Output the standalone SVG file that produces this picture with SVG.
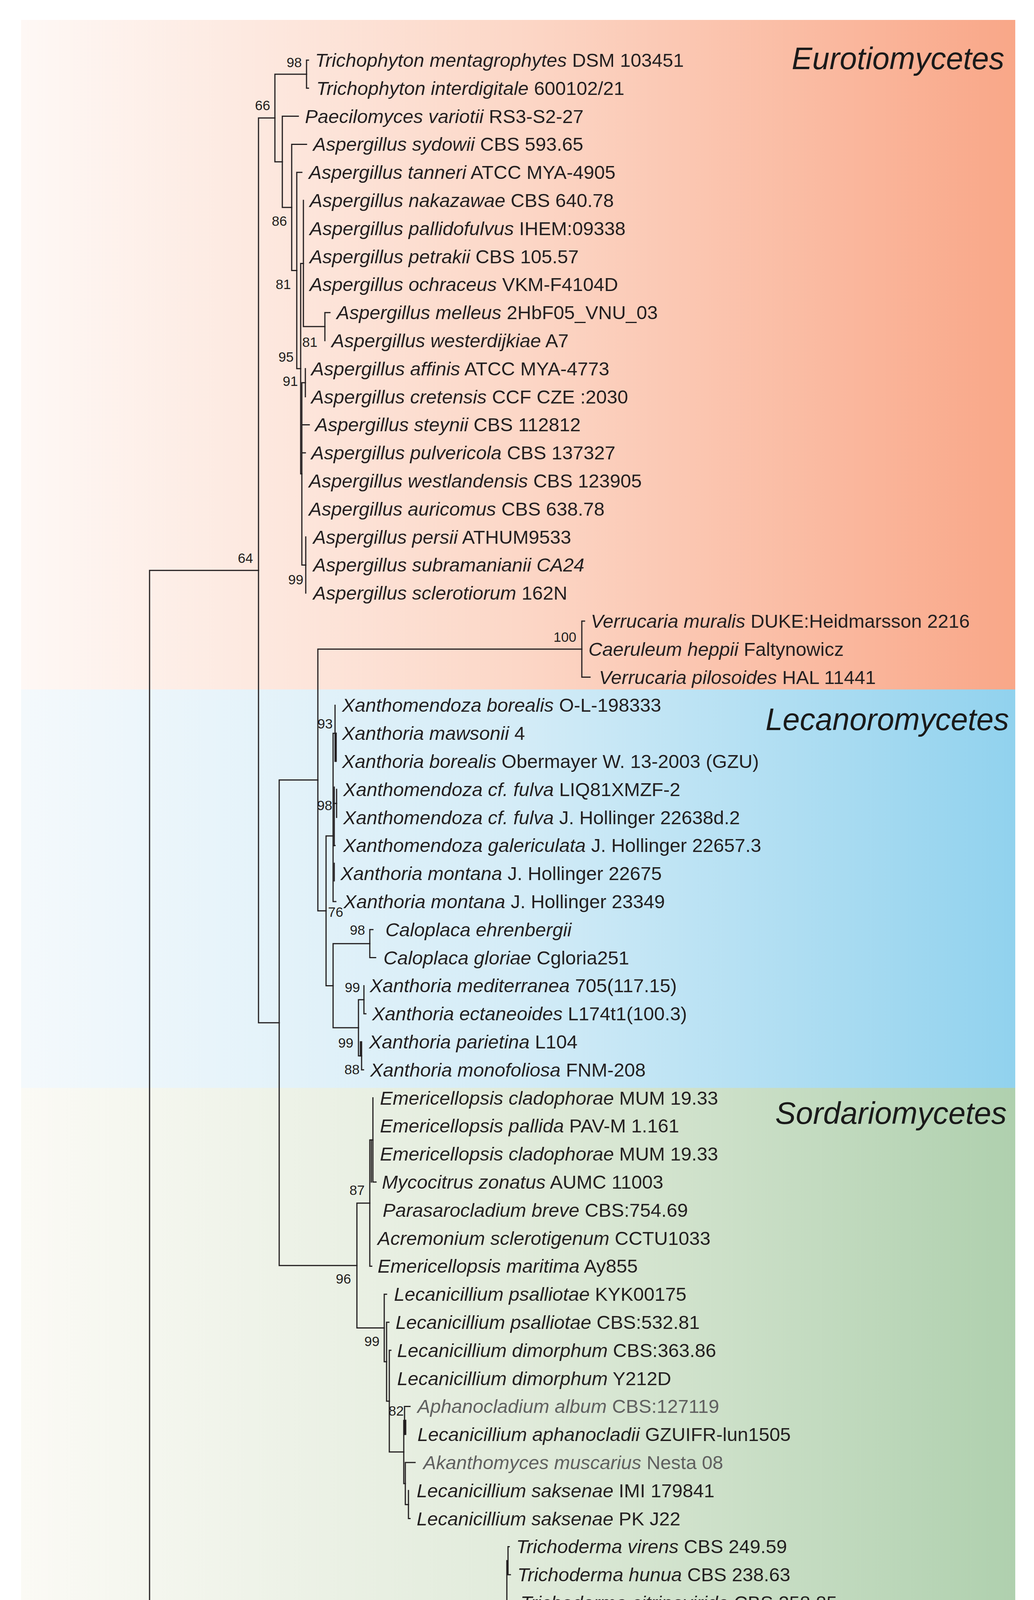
<svg xmlns="http://www.w3.org/2000/svg" width="2648" height="4873" viewBox="0 0 2648 4873">
<defs>
<linearGradient id="gEur" x1="0" y1="0" x2="1" y2="0">
<stop offset="0" stop-color="#fef8f5"/><stop offset="0.5" stop-color="#fcd7c7"/><stop offset="1" stop-color="#f9a788"/>
</linearGradient>
<linearGradient id="gLec" x1="0" y1="0" x2="1" y2="0">
<stop offset="0" stop-color="#f4f9fc"/><stop offset="0.5" stop-color="#d4ecf7"/><stop offset="1" stop-color="#91d2ee"/>
</linearGradient>
<linearGradient id="gSor" x1="0" y1="0" x2="1" y2="0">
<stop offset="0" stop-color="#fbfaf5"/><stop offset="0.5" stop-color="#e1ebdb"/><stop offset="1" stop-color="#afd0ae"/>
</linearGradient>
<style>
.br{stroke:#231f20;stroke-width:3;fill:none;stroke-linecap:square}
.tx{font-family:"Liberation Sans",Arial,sans-serif;font-size:49px;fill:#231f20;white-space:pre}
.i{font-style:italic}
.gr{fill:#606060}
.bs{font-family:"Liberation Sans",Arial,sans-serif;font-size:35px;fill:#231f20;text-anchor:end}
.cl{font-family:"Liberation Sans",Arial,sans-serif;font-size:79px;font-style:italic;fill:#1a1a1a;text-anchor:end}
</style>
</defs>
<rect width="2648" height="4873" fill="#ffffff"/>
<g id="bands">
<rect x="54" y="51" width="2546" height="1714" fill="url(#gEur)"/>
<rect x="54" y="1765" width="2546" height="1020" fill="url(#gLec)"/>
<rect x="54" y="2785" width="2546" height="1981" fill="url(#gSor)"/>
</g>
<g id="clade-labels">
<text id="lab-eur" class="cl" x="2572" y="177">Eurotiomycetes</text>
<text id="lab-lec" class="cl" x="2584" y="1869">Lecanoromycetes</text>
<text id="lab-sor" class="cl" x="2578" y="2877">Sordariomycetes</text>
</g>
<g id="connectors" class="br">
<path d="M383 1460.2V4242M383 1460.2H662M383 4242H1298"/>
<path d="M662 302.1V2618.2M662 302.1H704M662 2618.2H715"/>
<path d="M704 189.9V414.3M704 189.9H785M704 414.3H723"/>
<path d="M785 154V225.8M785 154H790M785 225.8H790"/>
<path d="M723 297.6V531M723 297.6H764M723 531H747"/>
<path d="M747 369.4V692.5M747 369.4H785M747 692.5H760"/>
<path d="M760 441.2V943.8M760 441.2H773M760 943.8H770"/>
<path d="M770 674.6V1213.1M770 674.6H777M770 1213.1H773"/>
<path d="M777 513V836.1M777 836.1H832"/>
<path d="M832 800.2V872M832 800.2H845"/>
<path d="M773 979.7V1446.4M773 979.7H782M773 1087.4H792M773 1159.2H782M773 1446.4H783"/>
<path d="M782 943.8V1015.6"/>
<path d="M783 1374.6V1518.2"/>
<path d="M715 1996.8V3239.7M715 1996.8H814M715 3239.7H914"/>
<path d="M814 1661.8V2331.7M814 1661.8H1490M814 2331.7H835"/>
<path d="M1490 1590V1733.6M1490 1590H1497M1490 1733.6H1511"/>
<path d="M835 2140V2523.4M835 2140H853M835 2523.4H853"/>
<path d="M853 1877.2V2308M853 1877.2H858M853 2056.7H862M853 2164.4H858M853 2308H860"/>
<path d="M858 1805.4V1949M861 1877V1949"/>
<path d="M862 2020.8V2092.6M856 2015V2165M856 2210V2255"/>
<path d="M853 2415.7V2631.1M853 2415.7H947M853 2631.1H918"/>
<path d="M947 2379.8V2451.6M947 2379.8H955M947 2451.6H962"/>
<path d="M918 2559.3V2702.9M918 2559.3H932M918 2702.9H926"/>
<path d="M932 2523.4V2595.2M932 2595.2H937"/>
<path d="M926 2667V2738.8M926 2738.8H931M923 2667V2702.9"/>
<path d="M914 3079.9V3399.6M914 3079.9H947M914 3399.6H984"/>
<path d="M947 2918.3V3241.4M947 2918.3H955M947 3241.4H952"/>
<path d="M955 2810.6V3026M955 3026H963M951 2918.3V3026"/>
<path d="M984 3313.2V3486M984 3313.2H990M984 3486H990"/>
<path d="M990 3385V3587M990 3385H996M990 3587H997"/>
<path d="M997 3456.8V3717.1M997 3456.8H1001M997 3717.1H1034"/>
<path d="M1034 3636.3V3797.9M1034 3636.3H1036M1034 3797.9H1038"/>
<path d="M1036 3600.4V3672.2M1036 3600.4H1050M1039 3636V3672"/>
<path d="M1038 3744V3851.7M1038 3744H1063M1038 3851.7H1046"/>
<path d="M1046 3815.8V3887.6M1046 3887.6H1050"/>
<path d="M1298 3995.3V4677.4M1298 3995.3H1301M1301 3959.4V4031.2M1301 3959.4H1304M1301 4031.2H1307M1301 4103V4246.6M1303 4103V4174.8M1303 4103H1309M1298 4318.4H1303M1298 4390.2H1318M1301 4318.4V4493"/>
</g>
<g id="scale-bar">
<path class="br" d="M308 4587H590M308 4573V4601M590 4573V4601"/>
<text class="bs" x="449" y="4660" style="text-anchor:middle">0.50</text>
</g>
<g id="bootstrap">
<text class="bs" x="773" y="172">98</text>
<text class="bs" x="692" y="282">66</text>
<text class="bs" x="735" y="578">86</text>
<text class="bs" x="745" y="740">81</text>
<text class="bs" x="813" y="888">81</text>
<text class="bs" x="752" y="926">95</text>
<text class="bs" x="763" y="988">91</text>
<text class="bs" x="777" y="1496">99</text>
<text class="bs" x="648" y="1441">64</text>
<text class="bs" x="1476" y="1643">100</text>
<text class="bs" x="852" y="1865">93</text>
<text class="bs" x="851" y="2074">98</text>
<text class="bs" x="879" y="2347">76</text>
<text class="bs" x="935" y="2393">98</text>
<text class="bs" x="922" y="2540">99</text>
<text class="bs" x="905" y="2682">99</text>
<text class="bs" x="921" y="2750">88</text>
<text class="bs" x="934" y="3059">87</text>
<text class="bs" x="899" y="3286">96</text>
<text class="bs" x="972" y="3446">99</text>
<text class="bs" x="1034" y="3624">82</text>
<text class="bs" x="1283" y="4295">100</text>
</g>
<g id="taxa" class="tx">
<g id="t01"><text x="807" y="171"><tspan class="i">Trichophyton mentagrophytes</tspan> DSM 103451</text></g>
<g id="t02"><text x="810" y="242.8"><tspan class="i">Trichophyton interdigitale</tspan>  600102/21</text></g>
<g id="t03"><text x="781" y="314.6"><tspan class="i">Paecilomyces variotii</tspan> RS3-S2-27</text></g>
<g id="t04"><text x="802" y="386.4"><tspan class="i">Aspergillus sydowii</tspan> CBS 593.65</text></g>
<g id="t05"><text x="791" y="458.2"><tspan class="i">Aspergillus tanneri</tspan> ATCC MYA-4905</text></g>
<g id="t06"><text x="793" y="530"><tspan class="i">Aspergillus nakazawae</tspan> CBS 640.78</text></g>
<g id="t07"><text x="793" y="601.8"><tspan class="i">Aspergillus pallidofulvus</tspan> IHEM:09338</text></g>
<g id="t08"><text x="793" y="673.6"><tspan class="i">Aspergillus petrakii</tspan> CBS 105.57</text></g>
<g id="t09"><text x="793" y="745.4"><tspan class="i">Aspergillus ochraceus</tspan> VKM-F4104D</text></g>
<g id="t10"><text x="862" y="817.2"><tspan class="i">Aspergillus melleus</tspan> 2HbF05_VNU_03</text></g>
<g id="t11"><text x="849" y="889"><tspan class="i">Aspergillus westerdijkiae</tspan>  A7</text></g>
<g id="t12"><text x="797" y="960.8"><tspan class="i">Aspergillus affinis</tspan> ATCC MYA-4773</text></g>
<g id="t13"><text x="797" y="1032.6"><tspan class="i">Aspergillus cretensis</tspan> CCF CZE :2030</text></g>
<g id="t14"><text x="807" y="1104.4"><tspan class="i">Aspergillus steynii</tspan> CBS 112812</text></g>
<g id="t15"><text x="797" y="1176.2"><tspan class="i">Aspergillus pulvericola</tspan> CBS 137327</text></g>
<g id="t16"><text x="791" y="1248"><tspan class="i">Aspergillus westlandensis</tspan> CBS 123905</text></g>
<g id="t17"><text x="791" y="1319.8"><tspan class="i">Aspergillus auricomus</tspan> CBS 638.78</text></g>
<g id="t18"><text x="802" y="1391.6"><tspan class="i">Aspergillus persii</tspan> ATHUM9533</text></g>
<g id="t19"><text x="802" y="1463.4"><tspan class="i">Aspergillus subramanianii CA24</tspan></text></g>
<g id="t20"><text x="802" y="1535.2"><tspan class="i">Aspergillus sclerotiorum</tspan> 162N</text></g>
<g id="t21"><text x="1513" y="1607"><tspan class="i">Verrucaria muralis</tspan> DUKE:Heidmarsson 2216</text></g>
<g id="t22"><text x="1507" y="1678.8"><tspan class="i">Caeruleum heppii</tspan> Faltynowicz</text></g>
<g id="t23"><text x="1534" y="1750.6"><tspan class="i">Verrucaria pilosoides</tspan> HAL 11441</text></g>
<g id="t24"><text x="876" y="1822.4"><tspan class="i">Xanthomendoza borealis</tspan> O-L-198333</text></g>
<g id="t25"><text x="876" y="1894.2"><tspan class="i">Xanthoria mawsonii</tspan> 4</text></g>
<g id="t26"><text x="876" y="1966"><tspan class="i">Xanthoria borealis</tspan> Obermayer W. 13-2003 (GZU)</text></g>
<g id="t27"><text x="879" y="2037.8"><tspan class="i">Xanthomendoza cf. fulva</tspan> LIQ81XMZF-2</text></g>
<g id="t28"><text x="879" y="2109.6"><tspan class="i">Xanthomendoza cf. fulva</tspan>  J. Hollinger 22638d.2</text></g>
<g id="t29"><text x="879" y="2181.4"><tspan class="i">Xanthomendoza galericulata</tspan> J. Hollinger 22657.3</text></g>
<g id="t30"><text x="872" y="2253.2"><tspan class="i">Xanthoria montana</tspan> J. Hollinger 22675</text></g>
<g id="t31"><text x="880" y="2325"><tspan class="i">Xanthoria montana</tspan> J. Hollinger 23349</text></g>
<g id="t32"><text x="987" y="2396.8"><tspan class="i">Caloplaca ehrenbergii</tspan></text></g>
<g id="t33"><text x="982" y="2468.6"><tspan class="i">Caloplaca gloriae</tspan> Cgloria251</text></g>
<g id="t34"><text x="947" y="2540.4"><tspan class="i">Xanthoria mediterranea</tspan> 705(117.15)</text></g>
<g id="t35"><text x="953" y="2612.2"><tspan class="i">Xanthoria ectaneoides</tspan> L174t1(100.3)</text></g>
<g id="t36"><text x="945" y="2684"><tspan class="i">Xanthoria parietina</tspan> L104</text></g>
<g id="t37"><text x="948" y="2755.8"><tspan class="i">Xanthoria monofoliosa</tspan> FNM-208</text></g>
<g id="t38"><text x="973" y="2827.6"><tspan class="i">Emericellopsis cladophorae</tspan> MUM 19.33</text></g>
<g id="t39"><text x="973" y="2899.4"><tspan class="i">Emericellopsis pallida</tspan> PAV-M 1.161</text></g>
<g id="t40"><text x="973" y="2971.2"><tspan class="i">Emericellopsis cladophorae</tspan> MUM 19.33</text></g>
<g id="t41"><text x="978" y="3043"><tspan class="i">Mycocitrus zonatus</tspan> AUMC 11003</text></g>
<g id="t42"><text x="980" y="3114.8"><tspan class="i">Parasarocladium breve</tspan> CBS:754.69</text></g>
<g id="t43"><text x="967" y="3186.6"><tspan class="i">Acremonium sclerotigenum</tspan> CCTU1033</text></g>
<g id="t44"><text x="967" y="3258.4"><tspan class="i">Emericellopsis maritima</tspan> Ay855</text></g>
<g id="t45"><text x="1009" y="3330.2"><tspan class="i">Lecanicillium psalliotae</tspan> KYK00175</text></g>
<g id="t46"><text x="1013" y="3402"><tspan class="i">Lecanicillium psalliotae</tspan> CBS:532.81</text></g>
<g id="t47"><text x="1017" y="3473.8"><tspan class="i">Lecanicillium dimorphum</tspan> CBS:363.86</text></g>
<g id="t48"><text x="1017" y="3545.6"><tspan class="i">Lecanicillium dimorphum</tspan> Y212D</text></g>
<g id="t49"><text class="gr" x="1069" y="3617.4"><tspan class="i">Aphanocladium album</tspan> CBS:127119</text></g>
<g id="t50"><text x="1069" y="3689.2"><tspan class="i">Lecanicillium aphanocladii</tspan> GZUIFR-lun1505</text></g>
<g id="t51"><text class="gr" x="1084" y="3761"><tspan class="i">Akanthomyces muscarius</tspan> Nesta 08</text></g>
<g id="t52"><text x="1067" y="3832.8"><tspan class="i">Lecanicillium saksenae</tspan> IMI 179841</text></g>
<g id="t53"><text x="1067" y="3904.6"><tspan class="i">Lecanicillium saksenae</tspan> PK J22</text></g>
<g id="t54"><text x="1322" y="3976.4"><tspan class="i">Trichoderma virens</tspan> CBS 249.59</text></g>
<g id="t55"><text x="1325" y="4048.2"><tspan class="i">Trichoderma hunua</tspan> CBS 238.63</text></g>
<g id="t56"><text x="1333" y="4120"><tspan class="i">Trichoderma citrinoviride</tspan> CBS 258.85</text></g>
<g id="t57"><text x="1329" y="4191.8"><tspan class="i">Trichoderma reesei</tspan> CBS:392.92</text></g>
<g id="t58"><text x="1325" y="4263.6"><tspan class="i">Trichoderma flagellatum</tspan> CBS:130626</text></g>
<g id="t59"><text x="1325" y="4335.4"><tspan class="i">Trichoderma harzianum</tspan> CBS 226.95</text></g>
<g id="t60"><text x="1343" y="4407.2"><tspan class="i">Trichoderma atrobrunneum</tspan> SH04C01</text></g>
<g id="t61"><text x="1322" y="4479"><tspan class="i">Trichoderma simmonsii</tspan> HF1S03</text></g>
<g id="t62"><text x="1322" y="4550.8"><tspan class="i">Trichoderma guizhouense</tspan> MFLUCC:17-1512</text></g>
<g id="t63"><text x="1322" y="4622.6"><tspan class="i">Trichoderma breve</tspan> TWS48Abf(b)</text></g>
<g id="t64"><text x="1322" y="4694.4"><tspan class="i">Trichoderma afroharzianum</tspan> CEN1059</text></g>
</g>
<g id="caption"><text x="1326" y="4849" text-anchor="middle" font-family="'Liberation Serif','Times New Roman',serif" font-size="68" fill="#000">(<tspan font-weight="bold">b</tspan>)</text></g>
</svg>
